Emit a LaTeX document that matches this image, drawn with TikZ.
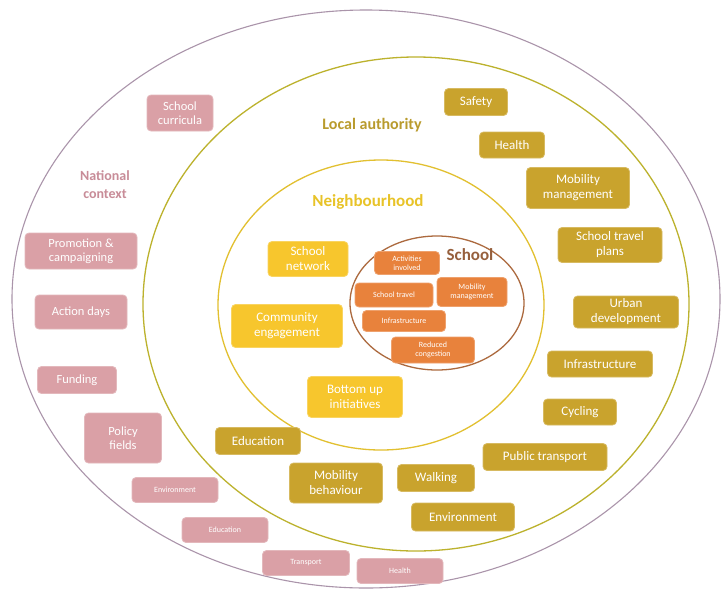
\documentclass[tikz,border=0pt]{standalone}
\usepackage{fontspec}
\setmainfont{Carlito}
\definecolor{natfill}{RGB}{218,160,166}
\definecolor{natline}{RGB}{170,148,170}
\definecolor{nattitle}{RGB}{200,140,152}
\definecolor{locfill}{RGB}{201,163,45}
\definecolor{locline}{RGB}{188,178,45}
\definecolor{loctitle}{RGB}{185,155,45}
\definecolor{neifill}{RGB}{247,198,45}
\definecolor{neiline}{RGB}{226,192,48}
\definecolor{neititle}{RGB}{232,195,40}
\definecolor{schfill}{RGB}{232,130,60}
\definecolor{schline}{RGB}{172,105,62}
\definecolor{schtitle}{RGB}{150,95,60}
\begin{document}
\begin{tikzpicture}[x=1pt,y=-1pt,
  sz/.style 2 args={minimum width=#1, minimum height=#2},
  box/.style={rounded corners=4pt, align=center, text=white, inner sep=1pt, line width=0.8pt},
  nat/.style={box, fill=natfill, draw=natfill!75!white, font=\fontsize{12.5}{14}\selectfont},
  natsm/.style={nat, font=\fontsize{8}{9}\selectfont},
  loc/.style={box, fill=locfill, draw=locfill!75!white, font=\fontsize{13}{15}\selectfont},
  nei/.style={box, fill=neifill, draw=neifill!75!white, font=\fontsize{13}{15}\selectfont},
  sch/.style={box, fill=schfill, draw=schfill!75!white, font=\fontsize{8}{9}\selectfont},
  ttl/.style={font=\bfseries\fontsize{16}{18}\selectfont, align=center},
  ring/.style={line width=1.3pt}
]
\useasboundingbox[fill=white] (0,0) rectangle (728,590);

% rings
\draw[ring, natline, line width=1.1pt] (366,299) ellipse [x radius=354, y radius=289];
\draw[ring, locline] (416,304) ellipse [x radius=273, y radius=247];
\draw[ring, neiline] (381,305) ellipse [x radius=163, y radius=145];
\draw[ring, schline] (437,303) ellipse [x radius=87, y radius=67];

% titles
\node[ttl, text=nattitle, font=\bfseries\fontsize{14}{18}\selectfont] (tnat) at (105,185) {National\\context};
\node[ttl, text=loctitle] (tloc) at (372,125) {Local authority};
\node[ttl, text=neititle, font=\bfseries\fontsize{17}{19}\selectfont] (tnei) at (368,202) {Neighbourhood};
\node[ttl, text=schtitle, font=\bfseries\fontsize{17}{19}\selectfont] (tsch) at (470,255) {School};

% national context
\node[nat, sz={66}{36}] (n1) at (180,113) {School\\curricula};
\node[nat, sz={112}{36}] (n2) at (81,251) {Promotion \&\\campaigning};
\node[nat, sz={92}{34}] (n3) at (81,312) {Action days};
\node[nat, sz={79}{27}] (n4) at (77,380) {Funding};
\node[nat, sz={77}{50}] (n5) at (123,438) {Policy\\fields};
\node[natsm, sz={86}{25}] (n6) at (175,490) {Environment};
\node[natsm, sz={86}{25}] (n7) at (225,530) {Education};
\node[natsm, sz={87}{25}] (n8) at (306,563) {Transport};
\node[natsm, sz={86}{25}] (n9) at (400,571) {Health};

% local authority
\node[loc, sz={63}{27}] (l1) at (476,102) {Safety};
\node[loc, sz={65}{26}] (l2) at (512,145) {Health};
\node[loc, sz={103}{41}] (l3) at (578,188) {Mobility\\management};
\node[loc, sz={104}{35}] (l4) at (610,245) {School travel\\plans};
\node[loc, sz={105}{32}] (l5) at (626,312) {Urban\\development};
\node[loc, sz={105}{26}] (l6) at (600,364) {Infrastructure};
\node[loc, sz={73}{26}] (l7) at (580,412) {Cycling};
\node[loc, sz={124}{27}] (l8) at (545,457) {Public transport};
\node[loc, sz={77}{27}] (l9) at (436,478) {Walking};
\node[loc, sz={103}{28}] (l10) at (463,517) {Environment};
\node[loc, sz={93}{40}] (l11) at (336,483) {Mobility\\behaviour};
\node[loc, sz={85}{27}] (l12) at (258,441) {Education};

% neighbourhood
\node[nei, sz={80}{35}] (e1) at (308,259) {School\\network};
\node[nei, sz={111}{43}] (e2) at (287,326) {Community\\engagement};
\node[nei, sz={95}{41}] (e3) at (355,397) {Bottom up\\initiatives};

% school
\node[sch, sz={65}{23}] (s1) at (407,263) {Activities\\involved};
\node[sch, sz={78}{24}] (s2) at (394,295) {School travel};
\node[sch, sz={70}{29}] (s3) at (472,292) {Mobility\\management};
\node[sch, sz={83}{21}] (s4) at (404,321) {Infrastructure};
\node[sch, sz={83}{26}] (s5) at (433,350) {Reduced\\congestion};
\end{tikzpicture}
\end{document}
